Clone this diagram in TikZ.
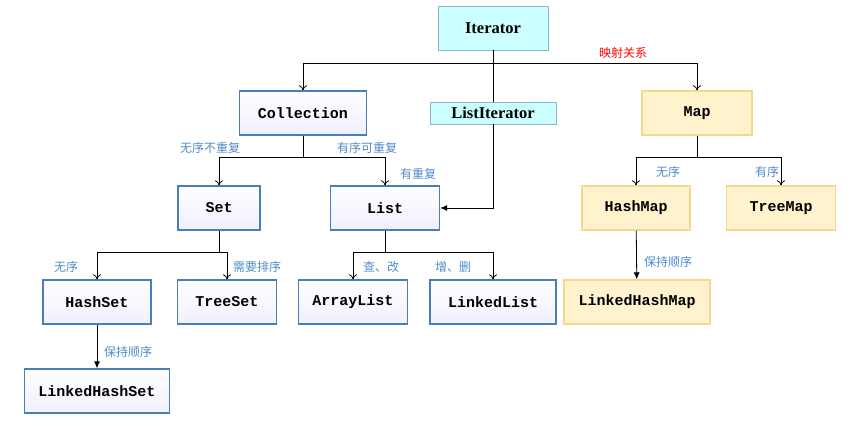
\documentclass[tikz,border=0pt]{standalone}
\usepackage{fontspec}
\setmainfont{Liberation Serif}
\newfontfamily\monof{Liberation Mono}
\newfontfamily\cjk{Noto Sans CJK SC}
\usetikzlibrary{arrows.meta}
\definecolor{boxblue}{HTML}{4A7EBB}
\definecolor{lblblue}{HTML}{4F8BC9}
\definecolor{itfill}{HTML}{CCFFFF}
\definecolor{itdraw}{HTML}{8DB3C8}
\definecolor{mapfill}{HTML}{FFF2CC}
\definecolor{mapdraw}{HTML}{F3D88E}
\begin{document}
\begin{tikzpicture}[x=1pt,y=-1pt,
  jbox/.style={draw=boxblue, line width=1.3pt, top color=white, bottom color=blue!6,
    minimum height=44pt, inner xsep=6pt, font=\monof\fontsize{15}{17}\selectfont\bfseries},
  itbox/.style={draw=itdraw, fill=itfill, font=\fontsize{16.5}{18}\selectfont\bfseries},
  mapbox/.style={draw=mapdraw, line width=1.3pt, fill=mapfill, minimum height=44pt,
    inner xsep=6pt, font=\monof\fontsize{15}{17}\selectfont\bfseries},
  lbl/.style={font=\cjk\fontsize{12}{14}\selectfont, text=lblblue, inner sep=1pt},
  every path/.style={line width=0.8pt},
  open/.style={-{To[length=5pt,width=8pt]}},
  solid arrow/.style={-{Latex[length=7pt,width=6pt]}}]
\useasboundingbox (0,0) rectangle (866,435);

% NODES
\node[itbox, minimum width=110pt, minimum height=44pt] (iter) at (493,28) {Iterator};
\node[jbox, minimum width=127pt] (coll) at (303,113) {Collection};
\node[itbox, minimum width=126pt, minimum height=22pt, inner sep=0pt] (liter) at (493,113) {ListIterator};
\node[mapbox, minimum width=110pt] (map) at (697,113) {Map};
\node[jbox, minimum width=82pt] (set) at (219,208) {Set};
\node[jbox, minimum width=109pt] (list) at (385,208) {List};
\node[mapbox, minimum width=108pt] (hmap) at (636,208) {HashMap};
\node[mapbox, minimum width=109pt] (tmap) at (781,208) {TreeMap};
\node[jbox, minimum width=108pt] (hset) at (97,302) {HashSet};
\node[jbox, minimum width=99pt] (tset) at (227,302) {TreeSet};
\node[jbox, minimum width=109pt] (alist) at (353,302) {ArrayList};
\node[jbox, minimum width=126pt] (llist) at (493,302) {LinkedList};
\node[jbox, minimum width=145pt] (lhset) at (97,391) {LinkedHashSet};
\node[mapbox, minimum width=146pt] (lhmap) at (637,302) {LinkedHashMap};

% helper coordinates
\coordinate (itj) at (493,63);
\coordinate (cj) at (303,157);
\coordinate (sj) at (219,252);
\coordinate (lj) at (385,252);
\coordinate (mj) at (697,157);

% EDGES
\draw (iter) -- (itj);
\draw[open] (itj) -| (coll);
\draw[open] (itj) -| (map);
\draw (itj) -- (liter);
\draw[solid arrow] (liter) |- (list);
\draw (coll) -- (cj);
\draw[open] (cj) -| (set);
\draw[open] (cj) -| (list);
\draw (set) -- (sj);
\draw[open] (sj) -| (hset);
\draw[open] (sj) -| (tset);
\draw (list) -- (lj);
\draw[open] (lj) -| (alist);
\draw[open] (lj) -| (llist);
\draw (map) -- (mj);
\draw[open] (mj) -| (hmap);
\draw[open] (mj) -| (tmap);
\draw[solid arrow] (hset) -- (lhset);
\draw[solid arrow] (hmap) -- (lhmap);

% LABELS
\node[lbl, text=red] (lmap) at (623,53) {映射关系};
\node[lbl] (l1) at (210,148) {无序不重复};
\node[lbl] (l2) at (367,148) {有序可重复};
\node[lbl] (l3) at (418,174) {有重复};
\node[lbl] (l4) at (66,267) {无序};
\node[lbl] (l5) at (257,267) {需要排序};
\node[lbl] (l6) at (381,267) {查、改};
\node[lbl] (l7) at (453,267) {增、删};
\node[lbl] (l8) at (128,352) {保持顺序};
\node[lbl] (l9) at (668,172) {无序};
\node[lbl] (l10) at (767,172) {有序};
\node[lbl] (l11) at (668,262) {保持顺序};
\end{tikzpicture}
\end{document}
